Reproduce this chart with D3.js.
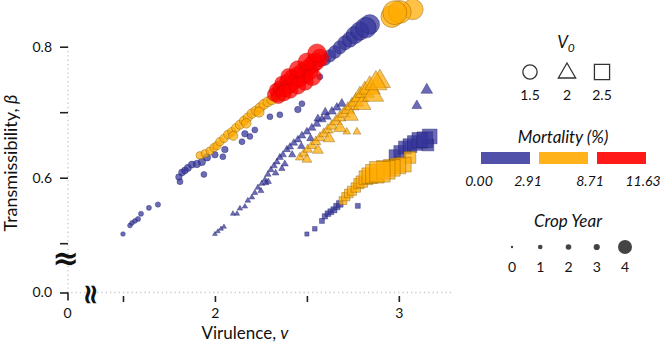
<!DOCTYPE html>
<html><head><meta charset="utf-8">
<script src="https://cdn.jsdelivr.net/npm/d3@7"></script>
<style>
body{margin:0;background:#fff}
svg{display:block}
text{font-family:Lato,"Open Sans",sans-serif;fill:#111}
</style>
</head><body>
<svg id="chart" width="667" height="347"></svg>
<script>
// ---- data: [virulence v, transmissibility beta, crop year, mortality %] ----
const circlesV15 = [
  [1.500,0.514,0.4,1],[1.538,0.527,0.5,1],[1.549,0.531,0.5,1],[1.565,0.534,0.5,1],[1.582,0.537,0.6,1],
  [1.598,0.545,0.6,1],[1.641,0.554,0.6,1],[1.690,0.559,0.7,1],
  [1.804,0.601,1.2,1.5],[1.810,0.594,1.0,1.5],[1.821,0.608,1.3,1.5],[1.837,0.611,1.3,1.5],[1.853,0.615,1.4,1.5],
  [1.875,0.620,1.4,1.5],[1.902,0.621,1.5,1.5],[1.929,0.624,1.5,1.5],[1.957,0.631,1.5,1.5],[1.940,0.605,1.0,1.5],
  [2.000,0.635,1.2,1.5],[2.043,0.632,1.0,1.5],[2.054,0.643,1.2,1.5],[2.147,0.655,1.0,1.5],[2.163,0.667,1.2,1.5],
  [2.190,0.663,1.0,1.5],[2.217,0.673,1.0,1.5],[2.299,0.693,1.0,1.5],[2.353,0.696,1.0,1.5],[2.451,0.704,1.2,1.5],
  [2.473,0.713,1.0,1.5],[2.571,0.754,1.0,1.5],
  [1.918,0.634,1.6,5],[1.946,0.637,1.7,5],[1.973,0.641,1.7,5],[1.995,0.646,1.8,5],[2.011,0.649,1.8,5],
  [2.027,0.655,1.9,5],[2.049,0.660,1.9,5],[2.071,0.666,2.0,5],[2.092,0.670,2.0,5],[2.114,0.676,2.0,5],
  [2.136,0.681,2.1,5],[2.158,0.687,2.1,5],[2.179,0.692,2.1,5],[2.201,0.698,2.2,5],[2.223,0.702,2.2,5],
  [2.245,0.707,2.2,5],[2.266,0.712,2.3,5],[2.288,0.716,2.3,5],[2.310,0.719,2.3,5],[2.337,0.724,2.4,5],
  [2.359,0.725,2.4,5],[2.100,0.664,2.1,5],[2.170,0.683,2.2,5],[2.240,0.700,2.3,5],
  [2.321,0.727,3.0,10],[2.332,0.734,3.0,10],[2.353,0.737,3.1,10],[2.364,0.744,3.1,10],[2.380,0.734,3.1,10],
  [2.391,0.747,3.1,10],[2.408,0.741,3.2,10],[2.418,0.753,3.2,10],[2.435,0.747,3.2,10],[2.446,0.757,3.2,10],
  [2.462,0.750,3.2,10],[2.473,0.762,3.3,10],[2.489,0.756,3.3,10],[2.505,0.768,3.3,10],[2.516,0.762,3.3,10],
  [2.533,0.774,3.4,10],[2.549,0.777,3.4,10],[2.571,0.783,3.4,10],
  [2.345,0.724,3.1,10],[2.375,0.729,3.2,10],[2.410,0.733,3.2,10],[2.450,0.740,3.3,10],[2.490,0.746,3.3,10],
  [2.530,0.754,3.4,10],[2.400,0.755,3.2,10],[2.450,0.766,3.3,10],[2.500,0.777,3.4,10],[2.555,0.790,3.5,10],
  [2.598,0.780,2.6,2],[2.625,0.786,2.8,2],[2.652,0.792,2.9,2],[2.679,0.799,3.0,2],[2.707,0.806,3.1,2],
  [2.734,0.811,3.2,2],[2.761,0.818,3.4,2],[2.788,0.824,3.5,2],[2.821,0.829,3.7,2],[2.842,0.834,3.6,2],
  [2.962,0.846,3.8,6],[2.978,0.852,4.0,6],[3.005,0.853,3.9,6],[3.076,0.857,3.7,6]
];
const trianglesV2 = [
  [2.000,0.514,0.4,1],[2.016,0.518,0.4,1],[2.033,0.522,0.5,1],[2.049,0.525,0.5,1],[2.098,0.545,0.6,1],
  [2.120,0.545,0.6,1],[2.136,0.553,0.7,1],[2.163,0.556,0.7,1],[2.179,0.565,0.8,1],[2.201,0.570,0.8,1],
  [2.217,0.577,0.9,1],[2.234,0.585,0.9,1],[2.255,0.591,1.0,1],[2.272,0.597,1.0,1],[2.288,0.605,1.1,1],
  [2.277,0.592,1.0,1],[2.304,0.612,1.1,1],[2.321,0.618,1.2,1],[2.337,0.624,1.2,1],[2.353,0.631,1.3,1],
  [2.370,0.635,1.3,1],[2.364,0.614,1.1,1],[2.391,0.643,1.4,1],[2.408,0.647,1.4,1],[2.429,0.653,1.5,1],
  [2.451,0.658,1.5,1],[2.473,0.664,1.6,1],[2.500,0.670,1.6,1],[2.527,0.676,1.7,1],[2.554,0.682,1.7,1],
  [2.582,0.689,1.8,1],[2.609,0.693,1.8,1],[2.636,0.701,1.9,1],[2.663,0.707,1.9,1],[2.690,0.713,2.0,1],
  [2.250,0.580,1.0,1],[2.290,0.594,1.1,1],[2.330,0.607,1.2,1],[2.380,0.621,1.3,1],[2.420,0.635,1.4,1],
  [2.470,0.648,1.5,1],[2.520,0.660,1.6,1],[2.560,0.690,1.7,1],[2.600,0.700,1.8,1],
  [3.152,0.734,2.6,2],[3.098,0.710,2.2,2],
  [2.462,0.631,2.0,5],[2.484,0.637,2.1,5],[2.505,0.643,2.1,5],[2.527,0.649,2.2,5],[2.549,0.655,2.2,5],
  [2.571,0.661,2.3,5],[2.592,0.667,2.3,5],[2.614,0.673,2.4,5],[2.636,0.679,2.5,5],[2.658,0.686,2.6,5],
  [2.679,0.692,2.7,5],[2.701,0.698,2.8,5],[2.723,0.704,3.0,5],[2.745,0.710,3.1,5],[2.766,0.716,3.2,5],
  [2.788,0.724,3.4,5],[2.815,0.731,3.5,5],[2.842,0.737,3.7,5],[2.875,0.744,3.8,5],[2.897,0.747,3.7,5],
  [2.500,0.628,2.2,5],[2.560,0.642,2.4,5],[2.620,0.660,2.6,5],[2.680,0.676,2.8,5],[2.740,0.694,3.1,5],
  [2.800,0.712,3.4,5],[2.860,0.726,3.7,5],
  [2.717,0.670,1.5,5],[2.772,0.670,1.6,5]
];
const squaresV25 = [
  [2.500,0.514,0.4,1],[2.543,0.522,0.6,1],[2.582,0.534,0.8,1],[2.598,0.541,1.0,1],[2.614,0.545,1.1,1],
  [2.630,0.548,1.2,1],[2.647,0.551,1.3,1],[2.663,0.556,1.4,1],[2.679,0.560,1.5,1],[2.777,0.557,0.8,1],
  [2.978,0.634,2.9,2],[3.005,0.640,3.0,2],[3.033,0.646,3.1,2],[3.060,0.649,3.2,2],[3.087,0.653,3.3,2],
  [3.114,0.657,3.4,2],[3.141,0.658,3.4,2],[3.158,0.650,3.0,2],[3.168,0.663,3.3,2],
  [2.696,0.565,2.0,5],[2.712,0.571,2.1,5],[2.728,0.576,2.2,5],[2.745,0.580,2.3,5],[2.766,0.585,2.4,5],
  [2.783,0.591,2.6,5],[2.799,0.594,2.9,5],[2.821,0.600,3.2,5],[2.842,0.603,3.4,5],[2.870,0.606,3.7,5],
  [2.897,0.609,3.9,5],[2.929,0.612,3.7,5],[2.962,0.615,3.5,5],[2.995,0.618,3.4,5],[3.027,0.620,3.3,5],
  [3.060,0.631,3.0,5]
];
const v0Labels = ["1.5", "2", "2.5"];
const mortalityBreaks = [2.91, 8.71];
const mortalityLabels = ["0.00", "2.91", "8.71", "11.63"];
const cropYears = [0, 1, 2, 3, 4];
const xTicks = [1.5, 2, 2.5, 3];
const yTicks = [0.5, 0.6, 0.7, 0.8];

// ---- setup ----
const svg = d3.select("#chart");
const x = d3.scaleLinear().domain([0, 1.4, 3.3]).range([67, 104.6, 454]);
const y = d3.scaleLinear().domain([0, 0.47, 0.87]).range([292.5, 262.85, 0.85]);
const rScale = d3.scaleLinear().domain([0,1,2,3,4]).range([1.9,3,4.4,6.6,12]).clamp(true);
const colorRange = ["#33339a", "#ffaa00", "#ff0000"];
const strokeRange = ["#1c1c66", "#7a5000", "#c00000"];
const color = d3.scaleThreshold().domain(mortalityBreaks).range(colorRange);
const strokeC = d3.scaleThreshold().domain(mortalityBreaks).range(strokeRange);

// grid dotted lines
svg.append("line").attr("x1", x(0)+1).attr("x2", x(0)+1).attr("y1", y(0.8)).attr("y2", y(0))
  .attr("stroke", "#c8c8c8").attr("stroke-width", 1.3).attr("stroke-dasharray", "1.3,3");
svg.append("line").attr("x1", x(0)).attr("x2", x(3.3)).attr("y1", y(0)).attr("y2", y(0))
  .attr("stroke", "#c8c8c8").attr("stroke-width", 1.3).attr("stroke-dasharray", "1.3,3");

// y axis
const yAxis = svg.append("g").attr("transform", `translate(${x(0)+1},0)`)
  .call(d3.axisLeft(y).tickValues(yTicks.concat([0])).tickSize(8).tickPadding(8)
    .tickFormat(d => (d === 0.6 || d === 0.8 || d === 0) ? d3.format(".1f")(d) : ""));
yAxis.select(".domain").remove();
yAxis.selectAll(".tick line").attr("stroke", "#222").attr("stroke-width", 1.6);
yAxis.selectAll(".tick text").style("font-size", "14px").attr("fill", "#111");
// corner at origin
svg.append("line").attr("x1", x(0)+1).attr("x2", x(0)+1).attr("y1", y(0)).attr("y2", y(0)+8)
  .attr("stroke", "#222").attr("stroke-width", 1.6);

// x axis
const xAxis = svg.append("g").attr("transform", `translate(0,${y(0)+3.5})`)
  .call(d3.axisBottom(x).tickValues(xTicks.concat([0])).tickSize(6).tickPadding(6)
    .tickFormat(d => Number.isInteger(d) ? String(d) : ""));
xAxis.select(".domain").remove();
xAxis.selectAll(".tick line").attr("stroke", "#222").attr("stroke-width", 1.6)
  .filter(d => d === 0).remove();
xAxis.selectAll(".tick text").style("font-size", "14px").attr("fill", "#111");

// break marks
svg.append("text").attr("x", x(0)-1).attr("y", 258).attr("text-anchor", "middle")
  .attr("dominant-baseline", "central").style("font-size", "32px").style("font-weight", "bold")
  .style("font-family", "DejaVu Sans").text("≈");
svg.append("text").attr("transform", `translate(${x(0)+24},${y(0)+2}) rotate(90)`)
  .attr("text-anchor", "middle").attr("dominant-baseline", "central")
  .style("font-size", "28px").style("font-weight", "bold").style("font-family", "DejaVu Sans").text("≈");

// axis titles
svg.append("text").attr("transform", "translate(17,163) rotate(-90)").attr("text-anchor", "middle")
  .style("font-size", "18px")
  .call(t => { t.append("tspan").text("Transmissibility, "); t.append("tspan").style("font-style", "italic").text("β"); });
svg.append("text").attr("x", 245).attr("y", 339).attr("text-anchor", "middle").style("font-size", "17px")
  .call(t => { t.append("tspan").text("Virulence, "); t.append("tspan").style("font-style", "italic").text("v"); });

// points
const shapes = [
  {data: circlesV15, type: d3.symbolCircle, k: Math.PI},
  {data: trianglesV2, type: d3.symbolTriangle, k: 1.8},
  {data: squaresV25, type: d3.symbolSquare, k: 3.2}
];
const pts = [];
shapes.forEach(s => s.data.forEach(d => pts.push({v: d[0], b: d[1], yr: d[2], m: d[3], s})));
pts.sort((a, b) => (a.m - b.m) || (a.yr - b.yr));
svg.append("g").selectAll("path").data(pts).join("path")
  .attr("transform", d => `translate(${x(d.v)},${y(d.b)})`)
  .attr("d", d => d3.symbol().type(d.s.type).size(d.s.k * rScale(d.yr) ** 2)())
  .attr("fill", d => color(d.m)).attr("fill-opacity", 0.72)
  .attr("stroke", d => strokeC(d.m)).attr("stroke-opacity", 0.55).attr("stroke-width", 0.7);

// legend: V0 shapes
const lg = svg.append("g");
lg.append("text").attr("x", 566).attr("y", 48).attr("text-anchor", "middle").style("font-size", "17px")
  .style("font-style", "italic")
  .call(t => { t.append("tspan").text("V"); t.append("tspan").attr("dy", 4).style("font-size", "12px").text("0"); });
const shapeX = [530, 567, 602];
const shapeTypes = [d3.symbolCircle, d3.symbolTriangle, d3.symbolSquare];
const shapeSizes = [160, 130, 230];
v0Labels.forEach((lab, i) => {
  lg.append("path").attr("transform", `translate(${shapeX[i]},${i === 1 ? 73 : 72})`)
    .attr("d", d3.symbol().type(shapeTypes[i]).size(shapeSizes[i])())
    .attr("fill", "none").attr("stroke", "#333").attr("stroke-width", 1.3);
  lg.append("text").attr("x", shapeX[i]).attr("y", 100).attr("text-anchor", "middle")
    .style("font-size", "14px").text(lab);
});

// legend: mortality
lg.append("text").attr("x", 563).attr("y", 143).attr("text-anchor", "middle").style("font-size", "17px")
  .style("font-style", "italic").text("Mortality (%)");
const barX = [481, 539, 597];
colorRange.forEach((c, i) => {
  lg.append("rect").attr("x", barX[i]).attr("y", 152).attr("width", 49).attr("height", 12)
    .attr("fill", c).attr("fill-opacity", i === 0 ? 0.85 : 0.9);
});
const mlabX = [479, 528, 590, 643];
mortalityLabels.forEach((lab, i) => {
  lg.append("text").attr("x", mlabX[i]).attr("y", 186).attr("text-anchor", "middle")
    .style("font-size", "14px").style("font-style", "italic").text(lab);
});

// legend: crop year
lg.append("text").attr("x", 568).attr("y", 227).attr("text-anchor", "middle").style("font-size", "17px")
  .style("font-style", "italic").text("Crop Year");
const legR = d3.scaleLinear().domain(cropYears).range([1.2, 2.3, 2.8, 3.1, 7]);
const cyX = d3.scalePoint().domain(cropYears).range([512, 625]);
cropYears.forEach(c => {
  lg.append("circle").attr("cx", cyX(c)).attr("cy", 247).attr("r", legR(c)).attr("fill", "#444");
  lg.append("text").attr("x", cyX(c)).attr("y", 272).attr("text-anchor", "middle").style("font-size", "14px").text(c);
});
</script>
</body></html>
